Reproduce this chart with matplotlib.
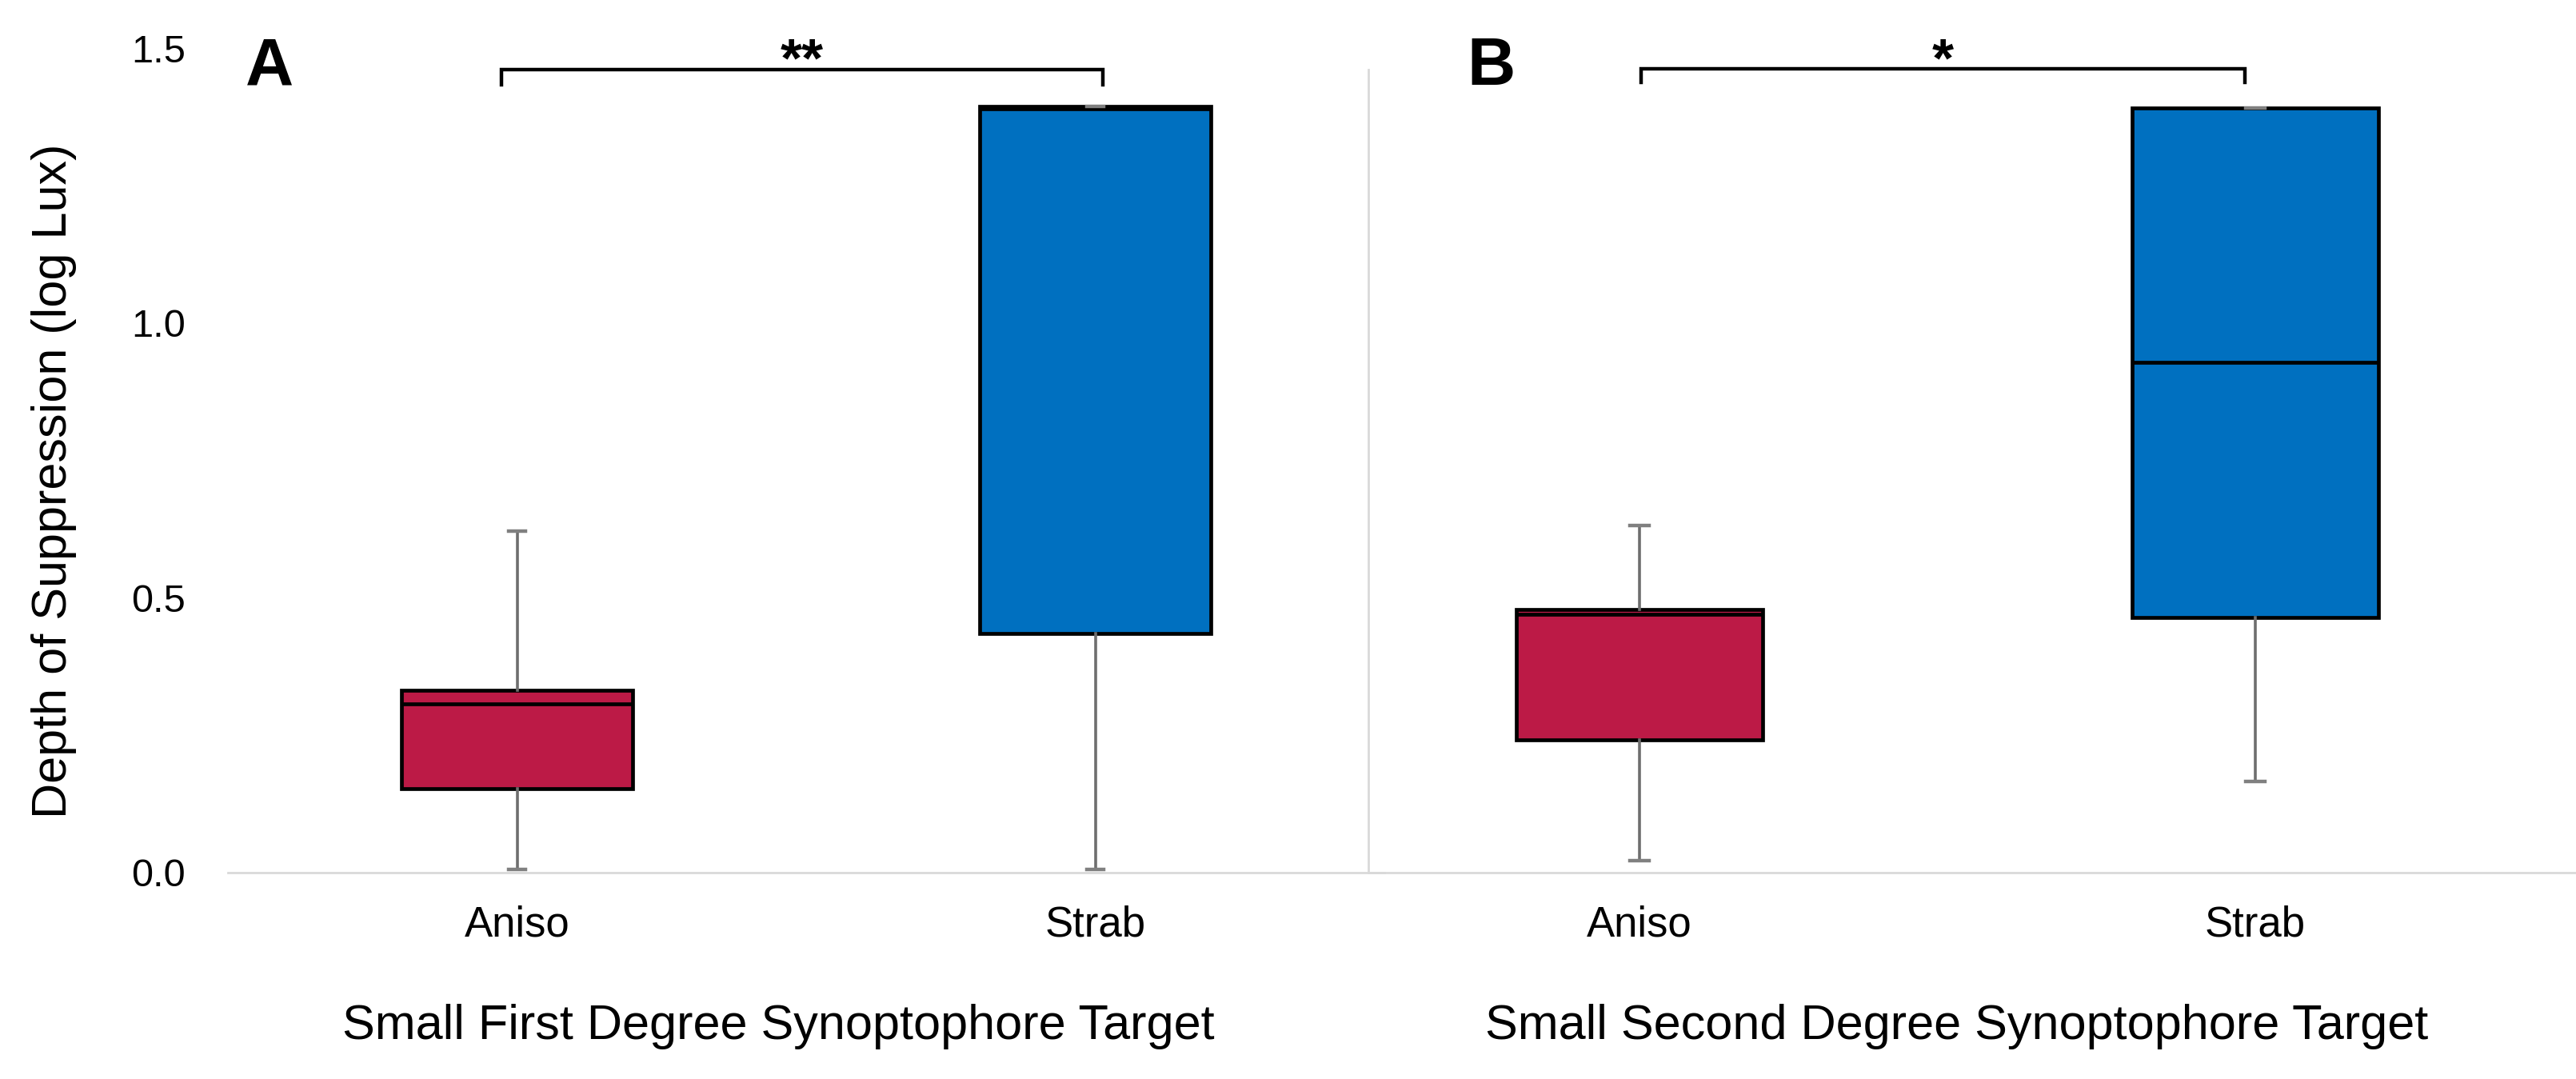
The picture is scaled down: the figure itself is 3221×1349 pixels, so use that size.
import matplotlib
matplotlib.use("Agg")
import matplotlib.pyplot as plt

plt.rcParams['font.family'] = ['Liberation Sans', 'DejaVu Sans']

# ---- data ----
categories = ["Aniso", "Strab"]
panel_letters = ["A", "B"]
panel_titles = ["Small First Degree Synoptophore Target",
                "Small Second Degree Synoptophore Target"]
sig_labels = ["**", "*"]
y_ticks = [0.0, 0.5, 1.0, 1.5]
y_tick_labels = ["0.0", "0.5", "1.0", "1.5"]
y_label = "Depth of Suppression (log Lux)"

# panel A
a_whislo = [0.006, 0.006]
a_q1 = [0.153, 0.435]
a_med = [0.307, 1.390]
a_q3 = [0.332, 1.394]
a_whishi = [0.621, 1.394]
# panel B
b_whislo = [0.022, 0.166]
b_q1 = [0.242, 0.464]
b_med = [0.470, 0.928]
b_q3 = [0.479, 1.391]
b_whishi = [0.631, 1.391]

box_colors = ["#BC1A46", "#0070C0"]

W, H = 3221, 1349
fig = plt.figure(figsize=(W / 100, H / 100), dpi=100)

y0_px, y15_px = 1091, 60
ax_bottom = (H - y0_px) / H
ax_height = (y0_px - y15_px) / H

axA = fig.add_axes([285 / W, ax_bottom, 1446 / W, ax_height])
axB = fig.add_axes([1711 / W, ax_bottom, 1510 / W, ax_height])

panels = [
    (axA, (a_whislo, a_q1, a_med, a_q3, a_whishi), (-0.5, 1.5)),
    (axB, (b_whislo, b_q1, b_med, b_q3, b_whishi), (-0.4403, 1.5208)),
]

for i, (ax, (wlo, q1, med, q3, whi), xl) in enumerate(panels):
    ax.set_facecolor("none")
    stats = []
    for j, c in enumerate(categories):
        stats.append(dict(label=c, whislo=wlo[j], q1=q1[j], med=med[j],
                          q3=q3[j], whishi=whi[j], fliers=[]))
    bp = ax.bxp(stats, positions=[0, 1], widths=0.40, patch_artist=True,
                showfliers=False, capwidths=0.03,
                boxprops=dict(edgecolor="black", linewidth=3.4),
                medianprops=dict(color="black", linewidth=3.4),
                whiskerprops=dict(color="#6e6e6e", linewidth=2.6),
                capprops=dict(color="#808080", linewidth=3.2, zorder=5))
    for patch, col in zip(bp["boxes"], box_colors):
        patch.set_facecolor(col)
    ax.set_xlim(*xl)
    ax.set_ylim(0, 1.5)
    ax.set_xticks([0, 1])
    ax.set_xticklabels(categories, fontsize=38)
    ax.tick_params(axis="x", length=0, pad=29)
    for s in ["top", "right", "left"]:
        ax.spines[s].set_visible(False)
    ax.spines["bottom"].set_color("#D9D9D9")
    ax.spines["bottom"].set_linewidth(2.0)
    if i == 0:
        ax.set_yticks(y_ticks)
        ax.set_yticklabels(y_tick_labels, fontsize=35)
        ax.tick_params(axis="y", length=0, pad=38)
    else:
        ax.set_yticks([])
        ax.spines["left"].set_visible(True)
        ax.spines["left"].set_color("#D9D9D9")
        ax.spines["left"].set_linewidth(2.0)
        ax.spines["left"].set_bounds(0, 1.46)

# significance brackets
brackets = [(-0.027, 1.013, 1.461, 1.433), (0.003, 0.983, 1.462, 1.437)]
for ax, (xa, xb, yt, yb), lab in zip([axA, axB], brackets, sig_labels):
    ax.plot([xa, xa, xb, xb], [yb, yt, yt, yb], color="black", lw=3.2,
            clip_on=False, solid_joinstyle="miter")
    ax.text((xa + xb) / 2, 1.4484, lab, ha="center", va="baseline",
            fontsize=50, fontweight="bold", clip_on=False)

# panel letters
fig.text(307 / W, (H - 107) / H, panel_letters[0], fontsize=60,
         fontweight="bold", ha="left", va="baseline")
fig.text(1834 / W, (H - 106) / H, panel_letters[1], fontsize=60,
         fontweight="bold", ha="left", va="baseline")

# axis titles
fig.text(68 / W, (H - 601) / H, y_label, rotation=90, fontsize=44,
         ha="center", va="center")
fig.text(973 / W, (H - 1284) / H, panel_titles[0], fontsize=44,
         ha="center", va="center")
fig.text(2447 / W, (H - 1284) / H, panel_titles[1], fontsize=44,
         ha="center", va="center")

fig.savefig("out.png", dpi=100, facecolor="white")
